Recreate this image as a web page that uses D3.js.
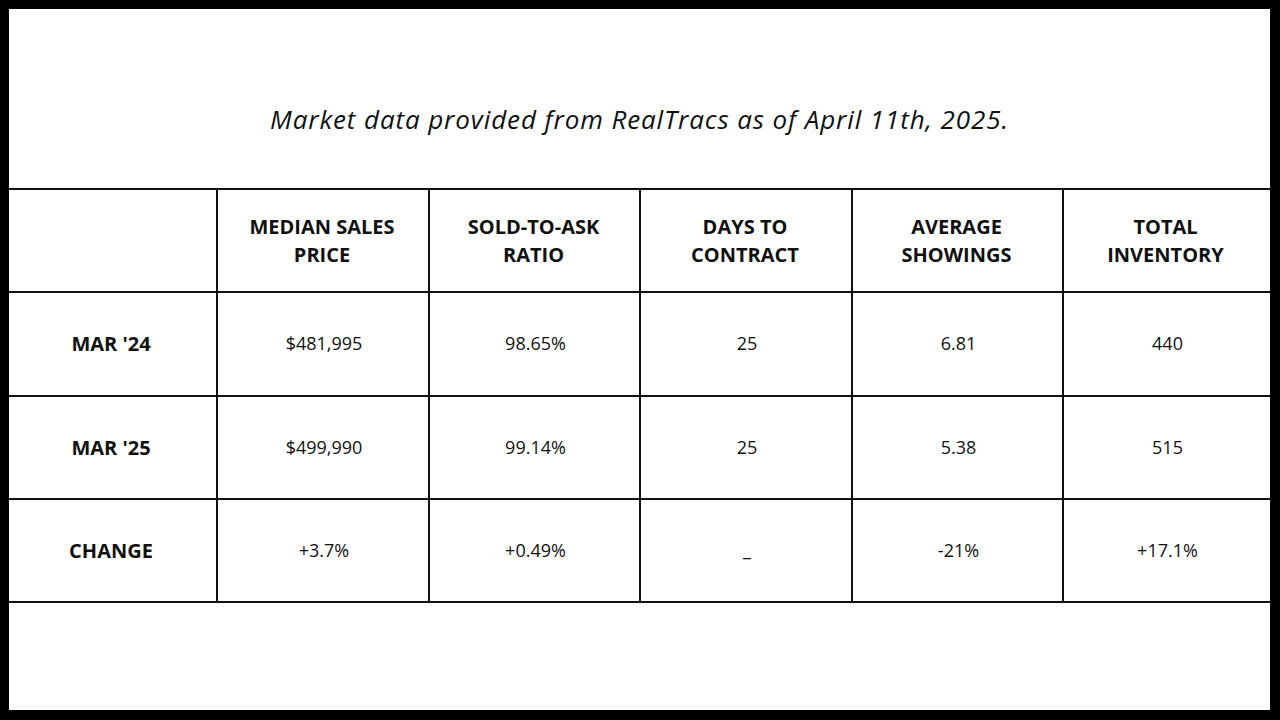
<!DOCTYPE html>
<html><head><meta charset="utf-8">
<script src="https://cdn.jsdelivr.net/npm/d3@7"></script>
<style>body{margin:0;background:#000}svg{display:block}</style>
</head><body>
<script>
const title = "Market data provided from RealTracs as of April 11th, 2025.";
const columns = [["MEDIAN SALES","PRICE"],["SOLD-TO-ASK","RATIO"],["DAYS TO","CONTRACT"],["AVERAGE","SHOWINGS"],["TOTAL","INVENTORY"]];
const rowLabels = ["MAR '24","MAR '25","CHANGE"];
const mar24 = ["$481,995","98.65%","25","6.81","440"];
const mar25 = ["$499,990","99.14%","25","5.38","515"];
const change = ["+3.7%","+0.49%","_","-21%","+17.1%"];
const rows = [mar24, mar25, change];

const W=1280,H=720;
const svg=d3.select("body").append("svg").attr("width",W).attr("height",H);
svg.append("rect").attr("width",W).attr("height",H).attr("fill","#000");
svg.append("rect").attr("x",9).attr("y",9).attr("width",1261).attr("height",701).attr("fill","#fff");

svg.append("text").attr("x",639).attr("y",129).attr("text-anchor","middle")
  .attr("font-family","'Open Sans',sans-serif").attr("font-style","italic")
  .attr("font-size",26).attr("fill","#111").attr("textLength",738).text(title);

const xEdges=[9,217,429,640,852,1063,1270];
const yEdges=[189,292,396,499,602];
const g=svg.append("g").attr("stroke","#111").attr("stroke-width",2);
yEdges.forEach(y=>g.append("line").attr("x1",9).attr("x2",1270).attr("y1",y).attr("y2",y));
xEdges.slice(1,-1).forEach(x=>g.append("line").attr("x1",x).attr("x2",x).attr("y1",189).attr("y2",602));

const cx=i=>(xEdges[i]+xEdges[i+1])/2;
const cy=j=>(yEdges[j]+yEdges[j+1])/2;
const font="'Open Sans',sans-serif";
columns.forEach((c,i)=>{
  const t=svg.append("text").attr("text-anchor","middle").attr("font-family",font)
    .attr("font-weight","bold").attr("font-size",20).attr("fill","#111");
  t.append("tspan").attr("x",cx(i+1)-1).attr("y",cy(0)-7).text(c[0]);
  t.append("tspan").attr("x",cx(i+1)-1).attr("y",cy(0)+21).text(c[1]);
});
rowLabels.forEach((r,j)=>{
  svg.append("text").attr("x",cx(0)-2).attr("y",cy(j+1)+7).attr("text-anchor","middle")
    .attr("font-family",font).attr("font-weight","bold").attr("font-size",20).attr("fill","#111").text(r);
  rows[j].forEach((v,i)=>{
    svg.append("text").attr("x",cx(i+1)+1).attr("y",cy(j+1)+(v==="_"?5:6)).attr("text-anchor","middle")
      .attr("font-family",font).attr("font-size",18).attr("fill","#111").text(v);
  });
});
</script>
</body></html>
